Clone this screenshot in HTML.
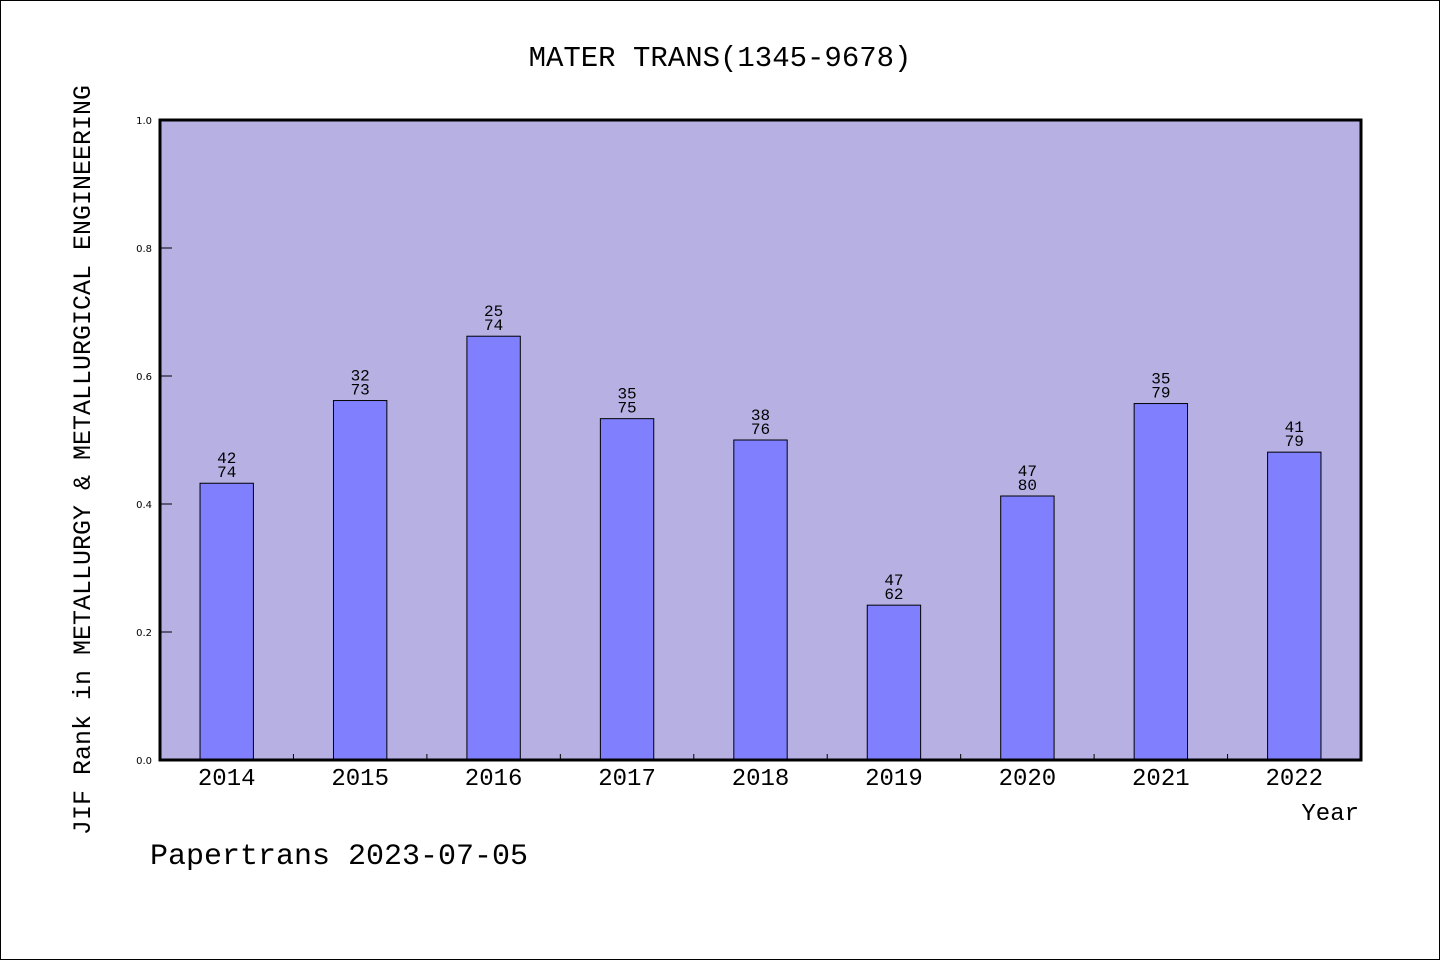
<!DOCTYPE html>
<html><head><meta charset="utf-8"><style>
html,body{margin:0;padding:0;background:#fff}
svg{display:block}
text{font-family:"WenQuanYi Zen Hei Mono","WenQuanYi Zen Hei","Liberation Mono",monospace;fill:#000}
</style></head><body>
<svg id="chart" width="1440" height="960" viewBox="0 0 1440 960">
<rect x="0.5" y="0.5" width="1439" height="959" fill="#fff" stroke="#000"/>
<text x="720" y="66" text-anchor="middle" font-size="29">MATER TRANS(1345-9678)</text>
<rect x="160" y="120" width="1201" height="640" fill="#b6b0e3"/>
<g id="bars"></g>
<rect x="160" y="120" width="1201" height="640" fill="none" stroke="#000" stroke-width="3"/>
<text transform="translate(90,460) rotate(-90)" text-anchor="middle" font-size="25">JIF Rank in METALLURGY &amp; METALLURGICAL ENGINEERING</text>
<text x="1359" y="820" text-anchor="end" font-size="24">Year</text>
<text x="150" y="864" font-size="30">Papertrans 2023-07-05</text>
</svg>
<script>
const years=["2014","2015","2016","2017","2018","2019","2020","2021","2022"];
const ranks=[42,32,25,35,38,47,47,35,41];
const totals=[74,73,74,75,76,62,80,79,79];
const yTicks=[0,0.2,0.4,0.6,0.8,1.0];
const NS="http://www.w3.org/2000/svg";
const L=160,R=1361,T=120,B=760;
const band=(R-L)/years.length;
const xc=i=>L+(i+0.5)*band;
const y=v=>B-(B-T)*v;
const g=document.getElementById('bars');
function mk(tag,attrs){const e=document.createElementNS(NS,tag);for(const k in attrs)e.setAttribute(k,attrs[k]);return e;}
yTicks.forEach(v=>{
  const t=mk('text',{x:152,y:y(v)+4,'text-anchor':'end','font-size':'10'});
  
  
  t.style.fontFamily='"DejaVu Sans",sans-serif';
  t.textContent=v.toFixed(1);g.appendChild(t);
  if(v>0&&v<1){const l=mk('line',{x1:L,x2:L+12,y1:y(v),y2:y(v),stroke:'#000','stroke-width':1});
  
  
  g.appendChild(l);}
});
years.forEach((yr,i)=>{
  const v=1-ranks[i]/totals[i];
  const w=band*0.4;
  const r=mk('rect',{x:xc(i)-w/2,y:y(v),width:w,height:B-y(v),fill:'#8080ff',stroke:'#000','stroke-width':1});
  
  
  g.appendChild(r);
  const a=mk('text',{x:xc(i),y:y(v)-20,'text-anchor':'middle','font-size':'16'});
  
  
  a.textContent=ranks[i];g.appendChild(a);
  const b=mk('text',{x:xc(i),y:y(v)-6,'text-anchor':'middle','font-size':'16'});
  
  
  b.textContent=totals[i];g.appendChild(b);
  const xl=mk('text',{x:xc(i),y:785,'text-anchor':'middle','font-size':'24'});
  
  
  xl.textContent=yr;g.appendChild(xl);
  if(i>0){const tk=mk('line',{x1:L+i*band,x2:L+i*band,y1:B,y2:B-6,stroke:'#000','stroke-width':1});
  
  
  g.appendChild(tk);}
});
</script>
</body></html>
